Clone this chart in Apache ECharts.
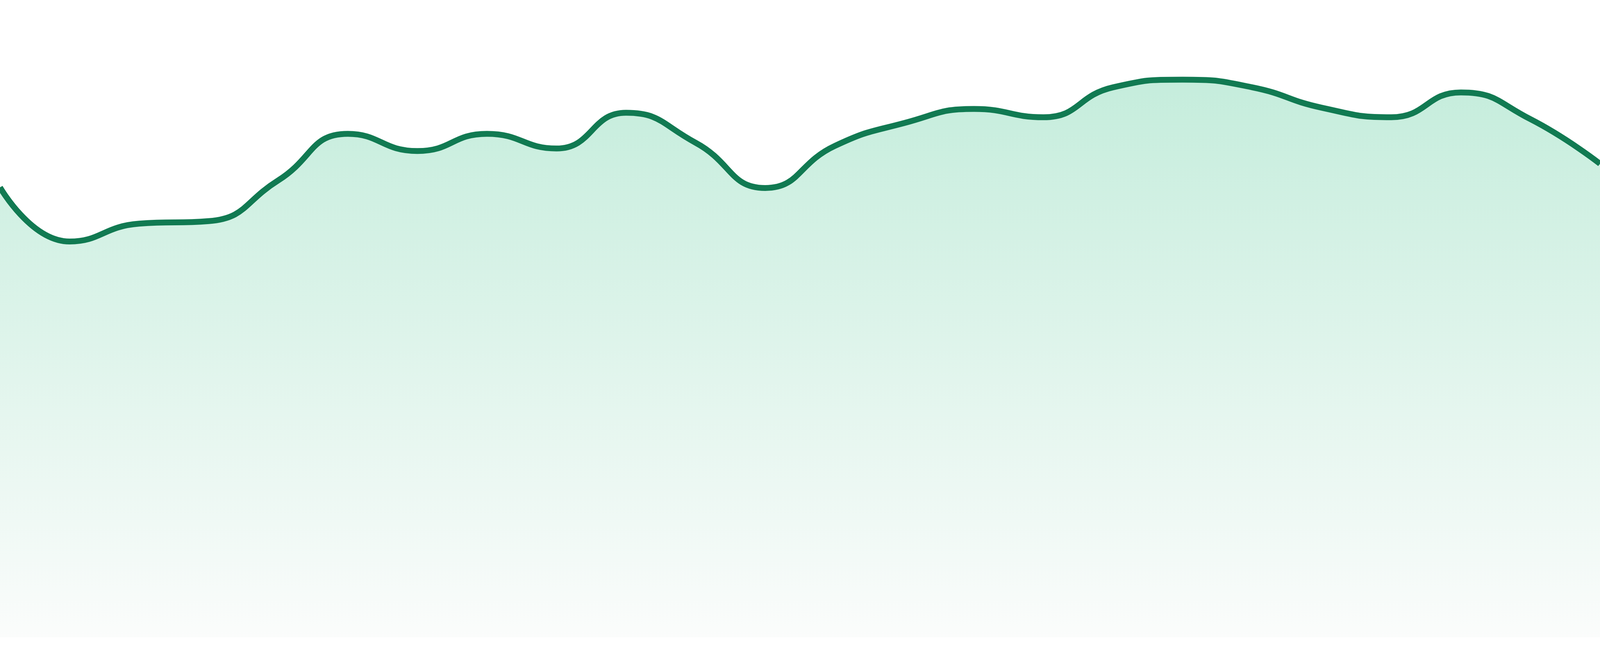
<!DOCTYPE html>
<html>
<head>
<meta charset="utf-8">
<style>
  html, body { margin: 0; padding: 0; background: #ffffff; width: 100%; height: 100%; overflow: hidden; }
  #chart { width: 100vw; height: 100vh; }
</style>
<script src="https://cdn.jsdelivr.net/npm/echarts@6/dist/echarts.min.js"></script>
</head>
<body>
<div id="chart"></div>
<script>
const categories = ['00:00','01:00','02:00','03:00','04:00','05:00','06:00','07:00',
  '08:00','09:00','10:00','11:00','12:00','13:00','14:00','15:00',
  '16:00','17:00','18:00','19:00','20:00','21:00','22:00','23:00'];
const values = [70.6, 62.1, 64.9, 65.3, 71.7, 79.0, 76.3, 79.0,
  76.7, 82.3, 77.6, 70.5, 77.1, 80.7, 82.9, 81.6,
  86.3, 87.5, 86.3, 83.1, 81.6, 85.5, 81.3, 74.3];
const yMin = 0;
const yMax = 100;

const chart = echarts.init(document.getElementById('chart'));
const baseOption = {
  animation: false,
  backgroundColor: '#ffffff',
  grid: { left: 0, right: 0, top: 0, bottom: '2.86%', containLabel: false },
  xAxis: {
    type: 'category',
    data: categories,
    boundaryGap: false,
    show: false
  },
  yAxis: {
    type: 'value',
    min: yMin,
    max: yMax,
    show: false
  },
  series: [{
    type: 'line',
    data: values,
    smooth: true,
    symbol: 'none',
    lineStyle: { color: '#117a52', width: 15 },
    areaStyle: { color: '#ace5cd' }
  }]
};
chart.setOption(baseOption);

function applyGradient() {
  const topPx = chart.convertToPixel({ yAxisIndex: 0 }, Math.max.apply(null, values));
  const botPx = chart.convertToPixel({ yAxisIndex: 0 }, yMin);
  chart.setOption({
    series: [{
      areaStyle: {
        color: new echarts.graphic.LinearGradient(0, topPx, 0, botPx, [
          { offset: 0, color: '#ace5cd' },
          { offset: 1, color: '#f9fbfa' }
        ], true)
      }
    }]
  });
}
applyGradient();
window.addEventListener('resize', function () { chart.resize(); applyGradient(); });
</script>
</body>
</html>
